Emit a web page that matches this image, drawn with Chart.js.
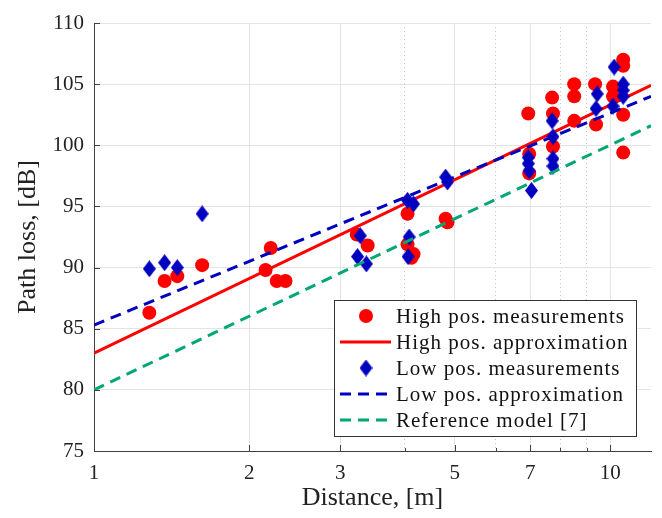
<!DOCTYPE html>
<html>
<head>
<meta charset="utf-8">
<script src="https://cdn.jsdelivr.net/npm/chart.js@4.4.1/dist/chart.umd.min.js"></script>
<style>
  html, body { margin: 0; padding: 0; background: #fff; }
  #wrap { width: 662px; height: 518px; position: relative; }
</style>
</head>
<body>
<div id="wrap"><canvas id="plossChart"></canvas></div>
<script>
const highDist = [1.28, 1.37, 1.45, 1.62, 2.15, 2.20, 2.26, 2.35, 3.23, 3.39, 4.05, 4.05, 4.12, 4.16, 4.80, 4.84,
    6.94, 6.97, 6.97, 7.72, 7.75, 7.75, 8.52, 8.52, 8.52, 9.35, 9.39, 10.13, 10.13, 10.6, 10.6, 10.6, 10.6];
const highLoss = [86.3, 88.9, 89.3, 90.2, 89.8, 91.6, 88.9, 88.9, 92.7, 91.8, 94.4, 91.9, 90.8, 91.1, 94.0, 93.7,
    102.6, 99.3, 97.7, 103.9, 102.6, 99.9, 105.0, 104.0, 102.0, 105.0, 101.7, 104.8, 104.0, 107.0, 106.5, 102.5, 99.4];

const lowDist = [1.28, 1.37, 1.45, 1.62, 3.24, 3.28, 3.37, 4.05, 4.06, 4.08, 4.16, 4.80, 4.84,
    6.94, 6.94, 6.97, 7.04, 7.72, 7.75, 7.75, 7.75, 9.39, 9.44, 10.13, 10.18, 10.6, 10.6, 10.6];
const lowLoss = [89.9, 90.4, 90.0, 94.4, 90.9, 92.6, 90.3, 95.5, 90.9, 92.5, 95.2, 97.4, 97.0,
    99.0, 98.5, 97.9, 96.3, 102.0, 100.7, 98.9, 98.3, 103.0, 104.2, 103.2, 106.4, 105.0, 104.5, 104.0];

// fitted lines, end points at the axis limits
const fitDist = [1, 12];
const highFit = [83.0, 104.9];
const lowFit = [85.3, 104.0];
const refModel = [80.0, 101.6];

const xMajor = [1, 2, 3, 5, 7, 10];
const xTicks = [1, 2, 3, 4, 5, 6, 7, 8, 9, 10];

const FONT = "'Liberation Serif', 'DejaVu Serif', serif";
const RED = "#ff0000";
const BLUE = "#0000c0";
const GREEN = "#00a676";

function toPoints(xs, ys) {
    return xs.map((x, i) => ({ x: x, y: ys[i] }));
}

function makeDiamond(w, h, color) {
    const c = document.createElement("canvas");
    c.width = w;
    c.height = h;
    const g = c.getContext("2d");
    g.fillStyle = color;
    g.beginPath();
    g.moveTo(w / 2, 0);
    g.lineTo(w, h / 2);
    g.lineTo(w / 2, h);
    g.lineTo(0, h / 2);
    g.closePath();
    g.fill();
    return c;
}

const diamond = makeDiamond(13, 17, BLUE);

// matlab style ticks pointing into the axes
const innerTicks = {
    id: "innerTicks",
    afterDatasetsDraw(chart) {
        const { ctx, chartArea, scales } = chart;
        ctx.save();
        ctx.strokeStyle = "#404040";
        ctx.lineWidth = 1;
        ctx.beginPath();
        scales.y.ticks.forEach(t => {
            const y = Math.round(scales.y.getPixelForValue(t.value)) + 0.5;
            ctx.moveTo(chartArea.left, y);
            ctx.lineTo(chartArea.left + 6, y);
        });
        scales.x.ticks.forEach(t => {
            const x = Math.round(scales.x.getPixelForValue(t.value)) + 0.5;
            const len = xMajor.includes(t.value) ? 6 : 3;
            ctx.moveTo(x, chartArea.bottom);
            ctx.lineTo(x, chartArea.bottom - len);
        });
        ctx.stroke();
        ctx.restore();
    }
};

// legend box sitting inside the plot, lower right
const boxLegend = {
    id: "boxLegend",
    afterDraw(chart) {
        const ctx = chart.ctx;
        const left = 334, top = 300, width = 302, height = 136;
        ctx.save();
        ctx.fillStyle = "#fff";
        ctx.fillRect(left, top, width, height);
        ctx.strokeStyle = "#333";
        ctx.lineWidth = 1;
        ctx.strokeRect(left + 0.5, top + 0.5, width, height);

        chart.data.datasets.forEach((ds, i) => {
            const y = top + 16 + i * 26;
            if (ds.showLine) {
                ctx.strokeStyle = ds.borderColor;
                ctx.lineWidth = ds.borderWidth;
                ctx.setLineDash(ds.borderDash || []);
                ctx.beginPath();
                ctx.moveTo(340, y);
                ctx.lineTo(391, y);
                ctx.stroke();
                ctx.setLineDash([]);
            } else if (ds.pointStyle === diamond) {
                ctx.drawImage(diamond, 366 - diamond.width / 2, y - diamond.height / 2);
            } else {
                ctx.fillStyle = ds.backgroundColor;
                ctx.beginPath();
                ctx.arc(366, y, ds.pointRadius, 0, Math.PI * 2);
                ctx.fill();
            }
            ctx.fillStyle = "#111";
            ctx.font = "21px " + FONT;
            ctx.letterSpacing = "1px";
            ctx.textBaseline = "middle";
            ctx.textAlign = "left";
            ctx.fillText(ds.label, 396, y + 1);
        });
        ctx.letterSpacing = "0px";
        ctx.restore();
    }
};

new Chart(document.getElementById("plossChart"), {
    type: "scatter",
    data: {
        datasets: [
            {
                label: "High pos. measurements",
                data: toPoints(highDist, highLoss),
                backgroundColor: RED,
                borderWidth: 0,
                pointRadius: 7,
                pointHoverRadius: 7,
                order: 5
            },
            {
                label: "High pos. approximation",
                data: toPoints(fitDist, highFit),
                showLine: true,
                borderColor: RED,
                borderWidth: 3,
                pointRadius: 0,
                order: 4
            },
            {
                label: "Low pos. measurements",
                data: toPoints(lowDist, lowLoss),
                pointStyle: diamond,
                order: 3
            },
            {
                label: "Low pos. approximation",
                data: toPoints(fitDist, lowFit),
                showLine: true,
                borderColor: BLUE,
                borderWidth: 3,
                borderDash: [11, 7],
                pointRadius: 0,
                order: 2
            },
            {
                label: "Reference model [7]",
                data: toPoints(fitDist, refModel),
                showLine: true,
                borderColor: GREEN,
                borderWidth: 3,
                borderDash: [11, 7],
                pointRadius: 0,
                order: 1
            }
        ]
    },
    options: {
        responsive: true,
        maintainAspectRatio: false,
        animation: false,
        events: [],
        layout: {
            padding: { top: 23, right: 11, left: 0, bottom: 0 }
        },
        plugins: {
            legend: { display: false },
            tooltip: { enabled: false }
        },
        scales: {
            x: {
                type: "logarithmic",
                min: 1,
                max: 12,
                afterBuildTicks: function(scale) {
                    scale.ticks = xTicks.map(v => ({ value: v }));
                },
                afterFit: function(scale) {
                    scale.height = 67;
                },
                ticks: {
                    autoSkip: false,
                    maxRotation: 0,
                    padding: 10,
                    color: "#222",
                    font: { family: FONT, size: 21 },
                    callback: function(v) {
                        return xMajor.includes(v) ? String(v) : "";
                    }
                },
                grid: {
                    drawTicks: false,
                    color: function(c) {
                        if (!c.tick) return "#e6e6e6";
                        return xMajor.includes(c.tick.value) ? "#e3e3e3" : "#c4c4c4";
                    },
                    lineWidth: 1
                },
                border: {
                    color: "#404040",
                    width: 1,
                    dash: function(c) {
                        if (!c.tick) return [];
                        return xMajor.includes(c.tick.value) ? [] : [1, 3];
                    }
                },
                title: {
                    display: true,
                    text: "Distance, [m]",
                    color: "#222",
                    font: { family: FONT, size: 26 },
                    padding: { top: 0, bottom: 4 }
                }
            },
            y: {
                min: 75,
                max: 110,
                afterFit: function(scale) {
                    scale.width = 94;
                },
                ticks: {
                    stepSize: 5,
                    padding: 10,
                    color: "#222",
                    font: { family: FONT, size: 21 }
                },
                grid: {
                    drawTicks: false,
                    color: "#e3e3e3",
                    lineWidth: 1
                },
                border: {
                    color: "#404040",
                    width: 1
                },
                title: {
                    display: true,
                    text: "Path loss, [dB]",
                    color: "#222",
                    font: { family: FONT, size: 26 },
                    padding: { top: 13, bottom: 0 }
                }
            }
        }
    },
    plugins: [innerTicks, boxLegend]
});
</script>
</body>
</html>
